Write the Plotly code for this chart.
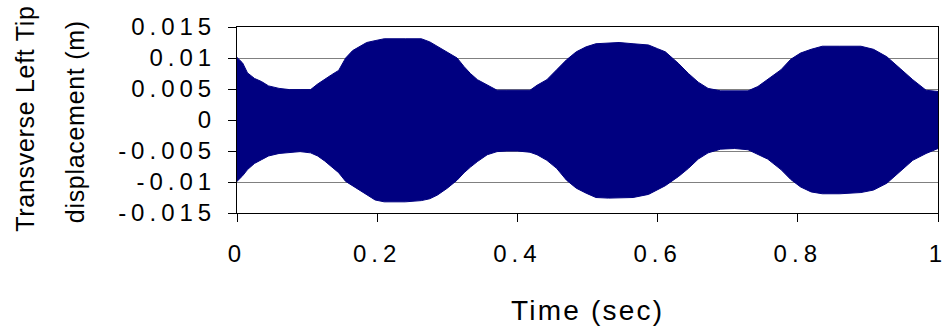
import plotly.graph_objects as go

# Envelope of the transverse left-tip displacement (m) versus time (s)
time_s = [0.000, 0.008, 0.015, 0.025, 0.035, 0.045, 0.060, 0.075, 0.090, 0.105,
          0.115, 0.125, 0.135, 0.145, 0.155, 0.165, 0.175, 0.185, 0.197, 0.210,
          0.240, 0.263, 0.275, 0.286, 0.300, 0.314, 0.324, 0.333, 0.343, 0.357,
          0.371, 0.385, 0.400, 0.418, 0.428, 0.442, 0.456, 0.470, 0.484, 0.498,
          0.512, 0.530, 0.545, 0.565, 0.587, 0.600, 0.611, 0.630, 0.644, 0.658,
          0.672, 0.690, 0.710, 0.729, 0.743, 0.757, 0.776, 0.790, 0.804, 0.819,
          0.835, 0.860, 0.890, 0.908, 0.927, 0.946, 0.964, 0.983, 1.000]

upper_m = [0.0101, 0.0092, 0.0076, 0.0067, 0.0062, 0.0055, 0.0051, 0.0049, 0.0049, 0.0049,
           0.0058, 0.0066, 0.0073, 0.0080, 0.0100, 0.0112, 0.0118, 0.0125, 0.0128, 0.0131,
           0.0131, 0.0131, 0.0126, 0.0119, 0.0110, 0.0100, 0.0086, 0.0075, 0.0065, 0.0056,
           0.0048, 0.0048, 0.0048, 0.0048, 0.0056, 0.0065, 0.0081, 0.0097, 0.0110, 0.0118,
           0.0123, 0.0124, 0.0125, 0.0123, 0.0121, 0.0115, 0.0110, 0.0091, 0.0075, 0.0061,
           0.0051, 0.0047, 0.0047, 0.0047, 0.0054, 0.0065, 0.0081, 0.0098, 0.0108, 0.0114,
           0.0119, 0.0119, 0.0119, 0.0114, 0.0102, 0.0083, 0.0065, 0.0048, 0.0046]

lower_m = [-0.0099, -0.0090, -0.0080, -0.0070, -0.0064, -0.0058, -0.0054, -0.0052, -0.0051, -0.0053,
           -0.0058, -0.0066, -0.0075, -0.0085, -0.0099, -0.0106, -0.0113, -0.0121, -0.0129, -0.0132,
           -0.0132, -0.0130, -0.0127, -0.0121, -0.0110, -0.0097, -0.0085, -0.0076, -0.0067, -0.0056,
           -0.0051, -0.0050, -0.0050, -0.0052, -0.0056, -0.0065, -0.0078, -0.0097, -0.0110, -0.0118,
           -0.0125, -0.0126, -0.0126, -0.0125, -0.0120, -0.0113, -0.0106, -0.0091, -0.0078, -0.0063,
           -0.0053, -0.0047, -0.0046, -0.0048, -0.0055, -0.0063, -0.0080, -0.0096, -0.0108, -0.0116,
           -0.0119, -0.0119, -0.0117, -0.0113, -0.0102, -0.0083, -0.0065, -0.0054, -0.0046]

y_ticks = [0.015, 0.01, 0.005, 0, -0.005, -0.01, -0.015]
y_tick_text = ["0.015", "0.01", "0.005", "0", "-0.005", "-0.01", "-0.015"]
x_ticks = [0, 0.2, 0.4, 0.6, 0.8, 1]
x_tick_text = ["0", "0.2", "0.4", "0.6", "0.8", "1"]

NAVY = "#000080"
FONT = "Liberation Sans, Arial, sans-serif"

fig = go.Figure()
fig.add_trace(go.Scatter(x=time_s, y=lower_m, mode="lines",
                         line=dict(color=NAVY, width=1), hoverinfo="skip"))
fig.add_trace(go.Scatter(x=time_s, y=upper_m, mode="lines",
                         line=dict(color=NAVY, width=1),
                         fill="tonexty", fillcolor=NAVY, hoverinfo="skip"))

fig.update_layout(
    width=948, height=332,
    margin=dict(l=237, r=3, t=27, b=119, pad=0),
    paper_bgcolor="white", plot_bgcolor="white",
    showlegend=False,
    font=dict(family=FONT, size=24, color="black"),
    xaxis=dict(range=[0, 1], tickvals=x_ticks, ticktext=x_tick_text,
               ticks="outside", ticklen=8, tickcolor="black", tickwidth=1,
               showline=True, linecolor="black", linewidth=1, mirror=True,
               showgrid=False, zeroline=False, ticklabelstandoff=11,
               ticklabeloverflow="allow"),
    yaxis=dict(range=[-0.015, 0.015], tickvals=y_ticks, ticktext=y_tick_text,
               ticks="outside", ticklen=8, tickcolor="black", tickwidth=1,
               showline=True, linecolor="black", linewidth=1, mirror=True,
               showgrid=True, gridcolor="#808080", gridwidth=1,
               zeroline=False, ticklabelstandoff=7),
)

title_font = dict(family=FONT, size=25, color="black")
fig.add_annotation(text="Transverse Left Tip", textangle=-90, showarrow=False,
                   xref="paper", yref="paper", x=(23 - 237) / 708, y=(213 - 119) / 186,
                   xanchor="center", yanchor="middle", font=title_font)
fig.add_annotation(text="displacement (m)", textangle=-90, showarrow=False,
                   xref="paper", yref="paper", x=(73 - 237) / 708, y=(213 - 122) / 186,
                   xanchor="center", yanchor="middle", font=title_font)
fig.add_annotation(text="Time (sec)", showarrow=False,
                   xref="paper", yref="paper", x=0.5, y=-(310 - 213) / 186,
                   xanchor="center", yanchor="middle",
                   font=dict(family=FONT, size=28, color="black"))

css = (".xtick text,.ytick text{letter-spacing:5px}"
       ".annotation-text{letter-spacing:0.7px}"
       ".annotation[data-index=\"2\"] .annotation-text{letter-spacing:2.2px}")
post = ("var s=document.createElement('style');s.textContent='" + css +
        "';document.head.appendChild(s);")
fig.write_html("out.html", post_script=post)
